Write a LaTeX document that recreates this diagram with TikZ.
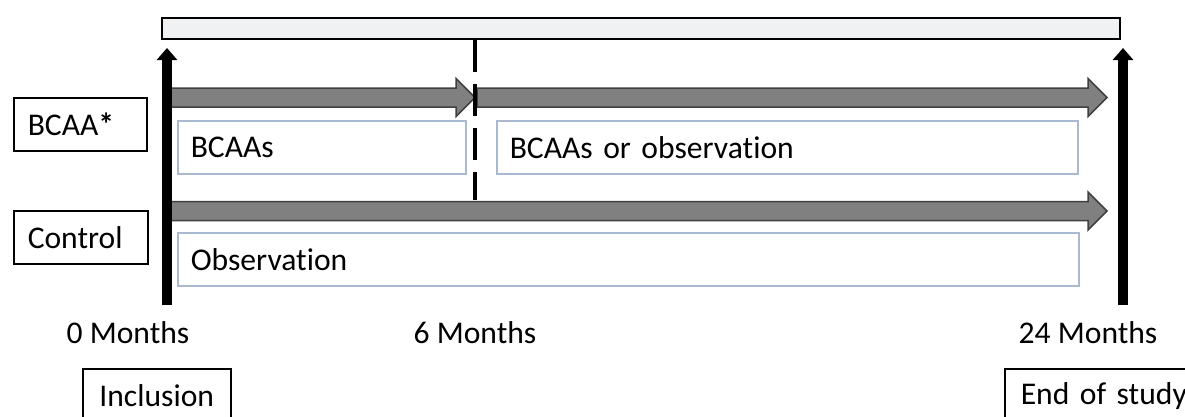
\documentclass[tikz,border=0pt]{standalone}
\usepackage{fontspec}
\setmainfont[Ligatures=NoCommon]{Carlito}
\usetikzlibrary{arrows.meta}

\definecolor{bargray}{HTML}{F0F1F3}
\definecolor{shaftgray}{HTML}{808080}
\definecolor{phaseblue}{HTML}{A9B9D0}

\tikzset{
  labelbox/.style={draw=black, line width=1.5pt, rectangle, inner xsep=14pt, align=left, minimum height=53pt},
  phasebox/.style={draw=phaseblue, line width=1.5pt, rectangle, anchor=north west, inner xsep=13pt, align=left, minimum height=53pt},
  fatarrow/.style={fill=shaftgray, draw=black!75, line width=1.5pt},
  timeline/.style={line width=10pt, -{Triangle[width=20pt,length=12pt]}},
  monthlabel/.style={inner sep=0pt},
}

% fat grey arrow: x start, x tip, y centre
\newcommand{\fatarrow}[3]{%
\draw[fatarrow] (#1,#3-9.5) -- (#2-19,#3-9.5) -- (#2-19,#3-19) -- (#2,#3)
  -- (#2-19,#3+19) -- (#2-19,#3+9.5) -- (#1,#3+9.5) -- cycle;}

\begin{document}
\begin{tikzpicture}[x=1pt, y=-1pt, every node/.append style={font=\fontsize{31.6pt}{38pt}\selectfont}]
\useasboundingbox (0,0) rectangle (1185,416);

% top bar
\node[draw, fill=bargray, line width=1.5pt, minimum width=958pt, minimum height=21pt, inner sep=0pt, anchor=north west] (bar) at (161,17) {};

% arms
\node[labelbox, text width=105pt, anchor=north west] (bcaa) at (13,97) {BCAA{\bfseries*}};
\node[labelbox, text width=106pt, anchor=north west] (control) at (13,210) {Control};

% treatment arrows
\fatarrow{170}{475}{97.5}
\fatarrow{477}{1107}{97.5}
\fatarrow{170}{1107}{211}

% phases
\node[phasebox, text width=262pt] (p1) at (177,120) {BCAAs};
\node[phasebox, text width=555pt] (p2) at (496,120) {BCAAs or observation};
\node[phasebox, text width=875pt] (p3) at (177,232) {Observation};

% 6 month switch
\coordinate (s0) at (475,40);
\coordinate (s1) at (475,200);
\draw[line width=4pt, dash pattern=on 32pt off 12pt] (s0) -- (s1);

% time line
\coordinate (t0) at (167,305);
\coordinate (t0top) at (167,48);
\coordinate (t24) at (1123,305);
\coordinate (t24top) at (1123,48);
\draw[timeline] (t0) -- (t0top);
\draw[timeline] (t24) -- (t24top);

\node[monthlabel] (m0) at (128,333) {0 Months};
\node[monthlabel] (m6) at (475,333) {6 Months};
\node[monthlabel] (m24) at (1088,333) {24 Months};

\node[labelbox, minimum width=148pt, minimum height=54pt, anchor=north west] (incl) at (82,368) {Inclusion};
\node[labelbox, inner xsep=16pt, text width=170pt, minimum height=54pt, anchor=north west] (end) at (1004,368) {End of study};
\end{tikzpicture}
\end{document}
